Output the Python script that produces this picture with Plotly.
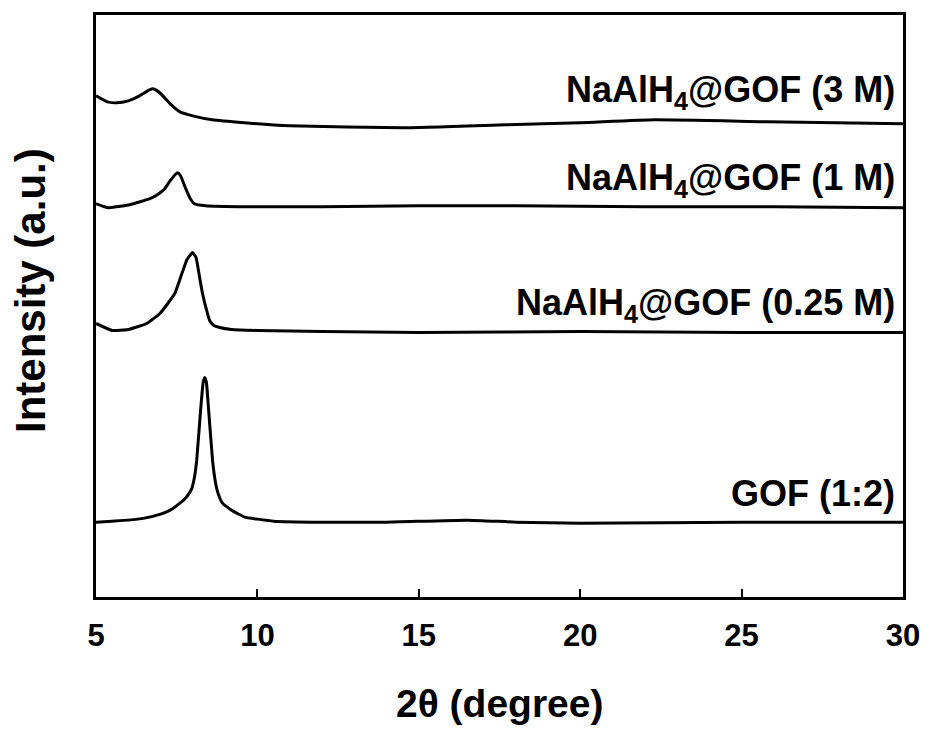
import plotly.graph_objects as go

# 2theta (degree) and intensity (a.u.)
gof_x = [5.0, 5.5, 6.0, 6.5, 7.0, 7.3, 7.6, 7.8, 7.96, 8.05, 8.12, 8.24, 8.32, 8.37, 8.42, 8.49, 8.61, 8.7, 8.78, 8.92, 9.2, 9.6, 10.0, 10.5, 12, 14, 16.5, 18, 20, 25, 30]
gof_y = [75, 76, 77, 79, 83, 87, 94, 100, 108, 120, 137, 187, 215, 220, 215, 187, 137, 115, 104, 94, 87, 80, 78, 76, 75, 75, 77, 75, 74, 75, 75]

m025_x = [5.0, 5.5, 6.0, 6.57, 6.98, 7.2, 7.44, 7.65, 7.82, 7.99, 8.1, 8.2, 8.3, 8.42, 8.52, 8.65, 8.83, 9.2, 10, 12, 15, 20, 25, 30]
m025_y = [274, 267, 268, 274, 284, 293, 304, 323, 338, 345, 340, 322, 304, 288, 277, 272, 270, 268, 267, 266, 265, 266, 265, 265]

m1_x = [5.0, 5.35, 6.05, 6.67, 6.9, 7.13, 7.3, 7.45, 7.53, 7.62, 7.78, 7.92, 8.05, 8.4, 9.7, 12, 15, 18, 22, 26, 30]
m1_y = [394, 390, 393, 399, 403, 409, 417, 423, 425, 422, 409, 399, 394, 392, 391, 391, 392, 392, 391, 391, 390]

m3_x = [5.0, 5.35, 5.65, 6.0, 6.35, 6.6, 6.75, 6.9, 7.1, 7.3, 7.6, 8.0, 8.6, 9.6, 11, 14.5, 17.7, 20, 22.3, 25.8, 30]
m3_y = [502, 496, 495, 497, 502, 507, 509, 507, 501, 494, 486, 482, 478, 475, 472, 470, 473, 475, 478, 476, 474]

labels = ["GOF (1:2)", "NaAlH<sub>4</sub>@GOF (0.25 M)", "NaAlH<sub>4</sub>@GOF (1 M)", "NaAlH<sub>4</sub>@GOF (3 M)"]
label_y = [104, 293, 418, 506]

x_ticks = [5, 10, 15, 20, 25, 30]

series = [(gof_x, gof_y), (m025_x, m025_y), (m1_x, m1_y), (m3_x, m3_y)]

fig = go.Figure()
for (xs, ys), name in zip(series, labels):
    fig.add_trace(go.Scatter(x=xs, y=ys, mode="lines", name=name,
                             line=dict(color="black", width=3, shape="spline", smoothing=0.4),
                             showlegend=False))

FONT = "Liberation Sans, Arial, sans-serif"
for name, yy in zip(labels, label_y):
    fig.add_annotation(x=29.82, y=yy, xref="x", yref="y", text="<b>" + name + "</b>",
                       showarrow=False, xanchor="right", yanchor="middle",
                       font=dict(family=FONT, size=36, color="black"))

# axis titles
fig.add_annotation(x=0.5, y=0, xref="paper", yref="paper", text="<b>2θ (degree)</b>",
                   showarrow=False, xanchor="center", yanchor="middle", yshift=-106,
                   font=dict(family=FONT, size=39, color="black"))
fig.add_annotation(x=0, y=0.5, xref="paper", yref="paper", text="<b>Intensity (a.u.)</b>",
                   showarrow=False, xanchor="center", yanchor="middle", xshift=-66, yshift=15,
                   textangle=-90, font=dict(family=FONT, size=42, color="black"))

fig.update_layout(
    width=932, height=730,
    margin=dict(l=96, r=26, t=14, b=133),
    plot_bgcolor="white", paper_bgcolor="white",
    font=dict(family=FONT, color="black"),
)
fig.update_xaxes(range=[5, 30], tickvals=x_ticks, ticktext=["<b>%d</b>" % t for t in x_ticks],
                 ticks="inside", ticklen=8, tickwidth=2, tickcolor="black",
                 showline=True, linecolor="black", linewidth=3, mirror=True,
                 showgrid=False, zeroline=False, ticklabelstandoff=9,
                 tickfont=dict(family=FONT, size=31, color="black"))
fig.update_yaxes(range=[0, 583], showticklabels=False, ticks="",
                 showline=True, linecolor="black", linewidth=3, mirror=True,
                 showgrid=False, zeroline=False)

fig.write_html("out.html", config={"displayModeBar": False},
               post_script="document.body.style.margin='0';")
